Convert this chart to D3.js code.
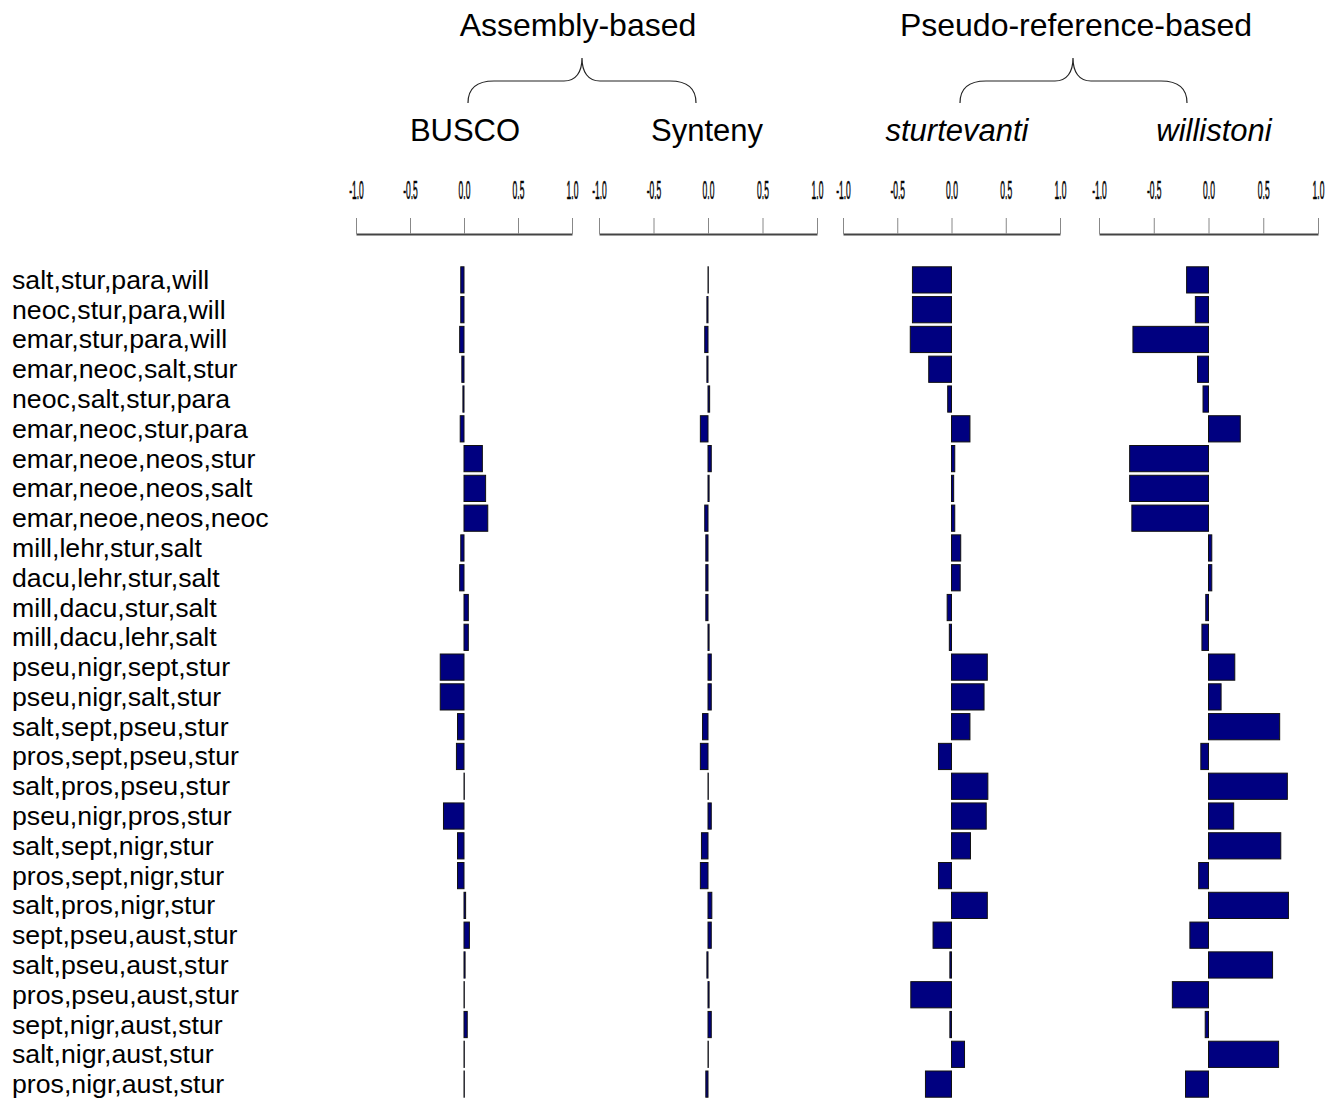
<html>
<head>
<style>
  body { margin: 0; background: #fff; }
  text { font-family: Arial, "Liberation Sans", sans-serif; fill: #000; }
</style>
</head>
<body>
<svg id="chart" width="1340" height="1102"></svg>

<script src="https://d3js.org/d3.v7.min.js"></script>
<script>
    // row labels (quartets)
    const rowLabels = [
        "salt,stur,para,will", "neoc,stur,para,will", "emar,stur,para,will",
        "emar,neoc,salt,stur", "neoc,salt,stur,para", "emar,neoc,stur,para",
        "emar,neoe,neos,stur", "emar,neoe,neos,salt", "emar,neoe,neos,neoc",
        "mill,lehr,stur,salt", "dacu,lehr,stur,salt", "mill,dacu,stur,salt",
        "mill,dacu,lehr,salt", "pseu,nigr,sept,stur", "pseu,nigr,salt,stur",
        "salt,sept,pseu,stur", "pros,sept,pseu,stur", "salt,pros,pseu,stur",
        "pseu,nigr,pros,stur", "salt,sept,nigr,stur", "pros,sept,nigr,stur",
        "salt,pros,nigr,stur", "sept,pseu,aust,stur", "salt,pseu,aust,stur",
        "pros,pseu,aust,stur", "sept,nigr,aust,stur", "salt,nigr,aust,stur",
        "pros,nigr,aust,stur"
    ]

    const busco = [-0.03, -0.03, -0.04, -0.02, -0.01, -0.035, 0.17, 0.20, 0.22, -0.03,
        -0.04, 0.04, 0.04, -0.22, -0.22, -0.06, -0.07, 0, -0.19, -0.06,
        -0.06, 0.015, 0.05, 0.01, 0, 0.03, 0, 0]
    const synteny = [0, -0.01, -0.03, -0.01, 0.015, -0.07, 0.03, 0.01, -0.03, -0.02,
        -0.02, -0.02, 0.01, 0.03, 0.03, -0.05, -0.07, 0, 0.03, -0.06,
        -0.07, 0.035, 0.03, -0.01, 0.01, 0.03, 0, -0.02]
    const sturtevanti = [-0.36, -0.36, -0.38, -0.21, -0.035, 0.17, 0.03, 0.02, 0.03, 0.085,
        0.08, -0.04, -0.02, 0.33, 0.30, 0.17, -0.12, 0.335, 0.32, 0.175,
        -0.12, 0.33, -0.17, -0.015, -0.375, -0.015, 0.12, -0.24]
    const willistoni = [-0.20, -0.12, -0.69, -0.10, -0.05, 0.29, -0.72, -0.72, -0.70, 0.03,
        0.03, -0.025, -0.06, 0.24, 0.115, 0.65, -0.07, 0.72, 0.23, 0.66,
        -0.09, 0.73, -0.17, 0.585, -0.33, -0.03, 0.64, -0.21]

    const tickValues = [-1, -0.5, 0, 0.5, 1]
    const panelTitles = ["BUSCO", "Synteny", "sturtevanti", "willistoni"]
    const panelItalic = [false, false, true, true]
    const groupTitles = ["Assembly-based", "Pseudo-reference-based"]

    const series = [busco, synteny, sturtevanti, willistoni]

    // layout (pixel ranges of each panel's x axis)
    const panelRanges = [[356, 572], [599, 817], [843, 1060], [1099, 1318]]
    const titleCenters = [465, 707, 957, 1214]
    const groupCenters = [578, 1076]
    const braces = [[468, 582, 696], [960, 1073, 1187]]

    let svg = d3.select("#chart")

    let y = d3.scaleBand()
        .domain(rowLabels)
        .range([265, 1099])
        .paddingInner(0.12)
        .paddingOuter(0.06)

    // row labels
    svg.append("g")
        .attr("class", "labels")
        .selectAll("text")
        .data(rowLabels)
        .enter()
        .append("text")
            .attr("x", 12)
            .attr("y", d => y(d) + y.bandwidth() / 2 + 9)
            .attr("font-size", 26.7)
            .text(d => d)

    // panels
    series.forEach((vals, i) => {
        let x = d3.scaleLinear().domain([-1, 1]).range(panelRanges[i])

        let axis = svg.append("g")
            .attr("class", "axis")
            .attr("transform", "translate(0,234)")
            .call(d3.axisTop(x)
                .tickValues(tickValues)
                .tickFormat(d3.format(".1f"))
                .tickSize(16)
                .tickSizeOuter(0)
                .tickPadding(28))
        axis.select(".domain").attr("stroke", "#444").attr("stroke-width", 2)
        axis.selectAll(".tick line").attr("stroke", "#888")
        axis.selectAll(".tick text")
            .attr("font-size", 25)
            .attr("font-family", "Arial, 'Liberation Sans', sans-serif")
            .attr("fill", "#111")
            .attr("stroke", "#111")
            .attr("stroke-width", 0.6)
            .attr("dy", "0.35em")
            .attr("transform", "scale(0.34,1)")
            .text(d => d3.format(".1f")(d).replace("−", "-"))

        // near-zero values still show as a hairline, as in the original
        svg.append("g")
            .attr("class", "bars")
            .selectAll("rect")
            .data(vals)
            .enter()
            .append("rect")
                .attr("x", d => x(Math.min(0, d)))
                .attr("y", (d, j) => y(rowLabels[j]))
                .attr("width", d => Math.max(0.3, Math.abs(x(d) - x(0))))
                .attr("height", y.bandwidth())
                .attr("fill", "#000080")
                .attr("stroke", "#111")
                .attr("stroke-width", 1)

        svg.append("text")
            .attr("x", titleCenters[i])
            .attr("y", 141)
            .attr("text-anchor", "middle")
            .attr("font-size", 31)
            .attr("font-style", panelItalic[i] ? "italic" : "normal")
            .text(panelTitles[i])
    })

    // group headers with curly braces
    groupTitles.forEach((t, i) => {
        svg.append("text")
            .attr("x", groupCenters[i])
            .attr("y", 36)
            .attr("text-anchor", "middle")
            .attr("font-size", 32)
            .text(t)

        let [l, m, r] = braces[i]
        let p = d3.path()
        p.moveTo(l, 103)
        p.bezierCurveTo(l, 89, l + 8, 81, l + 26, 81)
        p.lineTo(m - 18, 81)
        p.bezierCurveTo(m - 6, 81, m, 72, m, 58)
        p.bezierCurveTo(m, 72, m + 6, 81, m + 18, 81)
        p.lineTo(r - 26, 81)
        p.bezierCurveTo(r - 8, 81, r, 89, r, 103)
        svg.append("path")
            .attr("d", p.toString())
            .attr("fill", "none")
            .attr("stroke", "#222")
            .attr("stroke-width", 1.2)
    })
</script>
</body>
</html>
